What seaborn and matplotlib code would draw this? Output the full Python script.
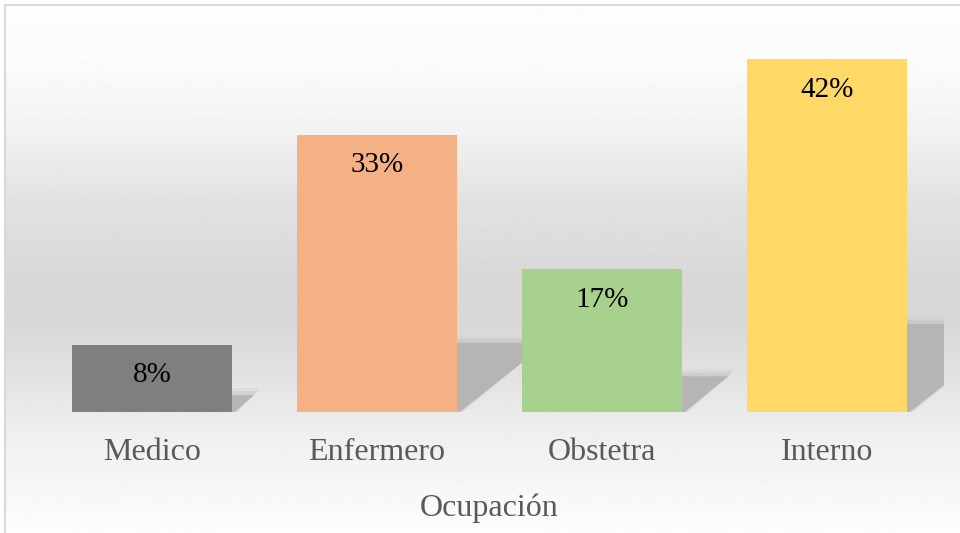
import matplotlib
matplotlib.use("Agg")
import matplotlib.pyplot as plt
import numpy as np
import seaborn as sns
from matplotlib.patches import Polygon, Rectangle

categories = ["Medico", "Enfermero", "Obstetra", "Interno"]
values = [8, 33, 17, 42]
bar_colors = ["#7f7f7f", "#f4b183", "#a9d18e", "#ffd966"]
x_title = "Ocupación"

W, H = 960, 533
sns.set_theme(style="white")
plt.rcParams["font.family"] = ["Liberation Serif", "DejaVu Serif"]

fig = plt.figure(figsize=(W / 100, H / 100), dpi=100)
fig.patch.set_facecolor("white")

# gradient background of the chart area (white -> gray -> white)
bg = fig.add_axes([5 / W, 0, 1 - 5 / W, 1 - 5 / H], zorder=-2)
stops_px = np.array([5, 60, 130, 200, 280, 320, 380, 440, 533])
stops_val = np.array([0.99, 0.985, 0.95, 0.885, 0.845, 0.845, 0.89, 0.94, 0.99])
rows = np.linspace(5, 533, 400)
grad = np.interp(rows, stops_px, stops_val)[:, None]
bg.imshow(grad, aspect="auto", cmap="gray", vmin=0, vmax=1, extent=[0, 1, 0, 1])
bg.set_axis_off()

# chart border
fig.patches.append(Rectangle((5 / W, -0.05), 1.2, 1 - 5 / H + 0.05,
                             transform=fig.transFigure, fill=False,
                             edgecolor="#d9d9d9", linewidth=1.5, zorder=5))

# plot area
left_px, right_px = 35, 944
base_px = 412
ax = fig.add_axes([left_px / W, (H - base_px) / H,
                   (right_px - left_px) / W, (base_px - 34) / H])
ax.set_facecolor("none")

sns.barplot(x=categories, y=values, hue=categories, palette=bar_colors,
            saturation=1, width=0.711, legend=False, ax=ax, zorder=2,
            linewidth=0, edgecolor="none")
ax.set_xlim(-0.52, 3.52)
ax.set_ylim(0, 45)
sns.despine(ax=ax, left=True, bottom=True)
ax.set_yticks([])
ax.tick_params(axis="x", length=0, pad=19, labelsize=23, labelcolor="#595959")
ax.set_xlabel(x_title, fontsize=23, color="#595959", labelpad=19)
ax.set_ylabel("")

bars = [c.patches[0] for c in ax.containers]

# perspective shadows behind bars (soft edges via layered polygons)
fig.canvas.draw()
inv = ax.transData.inverted()
for bar in bars:
    x0, w, h = bar.get_x(), bar.get_width(), bar.get_height()
    (X0, Y0) = ax.transData.transform((x0, 0))
    (X1, Yt) = ax.transData.transform((x0 + w, h))
    hs = 0.25 * (Yt - Y0)
    dx = 1.3 * hs
    for grow, color, alpha in [(7, "#cfcfcf", 0.35), (4, "#c4c4c4", 0.5),
                               (0, "#b5b5b5", 1.0)]:
        pts = [(X0, Y0 - 2), (X1 + grow * 0.5, Y0 - 2),
               (X1 + dx + grow, Y0 + hs + grow), (X0 + dx, Y0 + hs + grow)]
        ax.add_patch(Polygon(inv.transform(pts), closed=True, facecolor=color,
                             edgecolor="none", alpha=alpha, zorder=1))

# value labels inside bars
for bar, v in zip(bars, values):
    ax.annotate(f"{v}%", (bar.get_x() + bar.get_width() / 2, bar.get_height()),
                xytext=(0, -22), textcoords="offset points",
                ha="center", va="center", fontsize=21, color="black", zorder=3)

fig.savefig("out.png", dpi=100)
